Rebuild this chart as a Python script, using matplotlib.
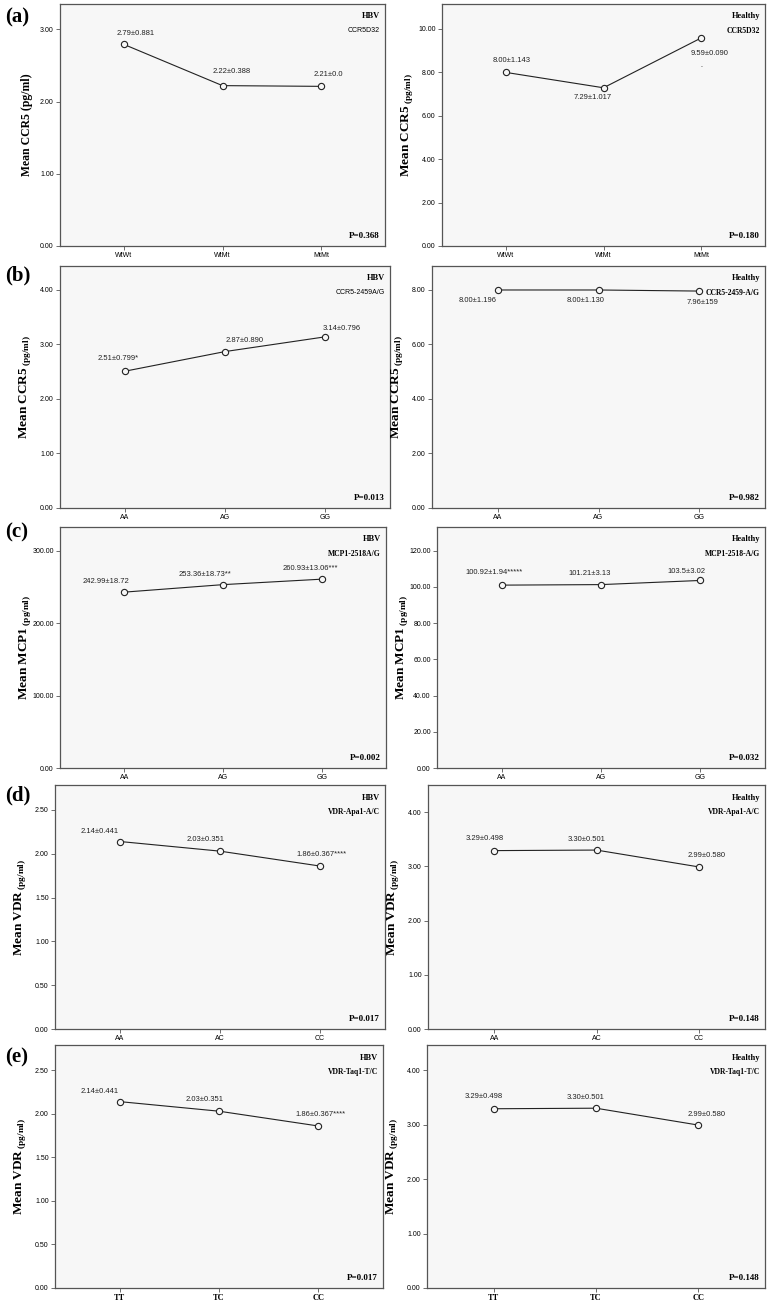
#!/usr/bin/env python3
"""Mean serum levels by genotype, HBV vs healthy (5 x 2 panels)"""
import matplotlib
matplotlib.use('Agg')
import matplotlib.pyplot as plt

plt.rcParams['font.family'] = ['Liberation Sans', 'DejaVu Sans']
plt.rcParams['mathtext.fontset'] = 'custom'
plt.rcParams['mathtext.rm'] = 'Liberation Serif'
plt.rcParams['mathtext.bf'] = 'Liberation Serif:bold'

# ---- data -------------------------------------------------------------
letters = ['(a)', '(b)', '(c)', '(d)', '(e)']

genotypes = [
    ['WtWt', 'WtMt', 'MtMt'],
    ['AA', 'AG', 'GG'],
    ['AA', 'AG', 'GG'],
    ['AA', 'AC', 'CC'],
    ['TT', 'TC', 'CC'],
]

genes = ['CCR5D32', 'CCR5-2459A/G', 'MCP1-2518A/G', 'VDR-Apa1-A/C', 'VDR-Taq1-T/C']
genes_healthy = ['CCR5D32', 'CCR5-2459-A/G', 'MCP1-2518-A/G', 'VDR-Apa1-A/C', 'VDR-Taq1-T/C']
markers_name = ['CCR5', 'CCR5', 'MCP1', 'VDR', 'VDR']

hbv_means = [
    [2.79, 2.22, 2.21],
    [2.51, 2.87, 3.14],
    [242.99, 253.36, 260.93],
    [2.14, 2.03, 1.86],
    [2.14, 2.03, 1.86],
]
hbv_labels = [
    ['2.79±0.881', '2.22±0.388', '2.21±0.0'],
    ['2.51±0.799*', '2.87±0.890', '3.14±0.796'],
    ['242.99±18.72', '253.36±18.73**', '260.93±13.06***'],
    ['2.14±0.441', '2.03±0.351', '1.86±0.367****'],
    ['2.14±0.441', '2.03±0.351', '1.86±0.367****'],
]
hbv_p = ['P=0.368', 'P=0.013', 'P=0.002', 'P=0.017', 'P=0.017']

healthy_means = [
    [8.00, 7.29, 9.59],
    [8.00, 8.00, 7.96],
    [100.92, 101.21, 103.5],
    [3.29, 3.30, 2.99],
    [3.29, 3.30, 2.99],
]
healthy_labels = [
    ['8.00±1.143', '7.29±1.017', '9.59±0.090'],
    ['8.00±1.196', '8.00±1.130', '7.96±159'],
    ['100.92±1.94*****', '101.21±3.13', '103.5±3.02'],
    ['3.29±0.498', '3.30±0.501', '2.99±0.580'],
    ['3.29±0.498', '3.30±0.501', '2.99±0.580'],
]
healthy_p = ['P=0.180', 'P=0.982', 'P=0.032', 'P=0.148', 'P=0.148']

hbv_ylim = [3.35, 4.44, 333, 2.785, 2.79]
hbv_yticks = [[0, 1, 2, 3], [0, 1, 2, 3, 4], [0, 100, 200, 300],
              [0, 0.5, 1, 1.5, 2, 2.5], [0, 0.5, 1, 1.5, 2, 2.5]]
healthy_ylim = [11.15, 8.88, 133, 4.5, 4.46]
healthy_yticks = [[0, 2, 4, 6, 8, 10], [0, 2, 4, 6, 8], [0, 20, 40, 60, 80, 100, 120],
                  [0, 1, 2, 3, 4], [0, 1, 2, 3, 4]]

# ---- layout (pixels) --------------------------------------------------
W, H = 768, 1306
rows_y = [(4, 246), (266, 508), (527, 768), (785, 1029), (1045, 1288)]
left_x = [(60, 385), (60, 390), (60, 386), (55, 385), (55, 383)]
right_x = [(442, 765), (432, 765), (437, 765), (428, 765), (427, 765)]
letter_y = [17, 275, 532, 795, 1057]

# label offsets in pixels (dx, dy), y up
hbv_off = [
    [(12, 11), (9, 14), (7, 12)],
    [(-7, 13), (20, 11), (17, 8)],
    [(-18, 11), (-18, 10), (-11, 11)],
    [(-20, 10), (-14, 12), (2, 12)],
    [(-20, 10), (-14, 12), (2, 12)],
]
healthy_off = [
    [(6, 12), (-11, -10), (8, -16)],
    [(-20, -11), (-13, -11), (3, -11)],
    [(-8, 13), (-11, 11), (-14, 9)],
    [(-10, 12), (-10, 11), (8, 11)],
    [(-10, 12), (-10, 11), (8, 11)],
]

BG = '#f7f7f7'
EDGE = '#555555'
SERIF = 'Liberation Serif'


def make_axes(fig, xr, yr):
    x0, x1 = xr
    y0, y1 = yr
    return fig.add_axes([x0 / W, 1 - y1 / H, (x1 - x0) / W, (y1 - y0) / H])


def draw_panel(ax, cats, means, labels, offs, ylim, yticks, group, gene, pval,
               name, small_unit, bold_x, sans_gene=False):
    ax.set_facecolor(BG)
    xs = list(range(len(cats)))
    ax.plot(xs, means, '-', color='#222222', lw=0.8, zorder=2)
    ax.plot(xs, means, 'o', ms=4.5, mfc=BG, mec='#222222', mew=0.8, zorder=3)
    for x, y, lab, (dx, dy) in zip(xs, means, labels, offs):
        ax.annotate(lab, (x, y), xytext=(dx, dy), textcoords='offset pixels',
                    ha='center', va='center', fontsize=5.5, color='#222222')
    ax.set_xlim(-0.65, 2.65)
    ax.set_ylim(0, ylim)
    ax.set_xticks(xs)
    if bold_x:
        ax.set_xticklabels(cats, fontsize=6, family=SERIF, fontweight='bold')
    else:
        ax.set_xticklabels(cats, fontsize=5)
    ax.set_yticks(yticks)
    ax.set_yticklabels(['%.2f' % t for t in yticks], fontsize=5)
    ax.tick_params(axis='both', length=3, width=0.6, color=EDGE, pad=1.5)
    for s in ax.spines.values():
        s.set_color(EDGE)
        s.set_linewidth(0.9)
    if small_unit:
        ax.set_ylabel('Mean %s' % name + r'$\,_{\mathbf{(pg/ml)}}$', family=SERIF,
                      fontweight='bold', fontsize=9.5)
    else:
        ax.set_ylabel('Mean %s (pg/ml)' % name, family=SERIF,
                      fontweight='bold', fontsize=8.5)
    bb = ax.get_position()
    ax.yaxis.set_label_coords(-27.0 / (bb.width * W), 0.5)
    ax.text(0.985, 0.965, group, transform=ax.transAxes, ha='right', va='top',
            family=SERIF, fontweight='bold', fontsize=6)
    if sans_gene:
        ax.text(0.985, 0.905, gene, transform=ax.transAxes, ha='right', va='top',
                fontsize=5)
    else:
        ax.text(0.985, 0.905, gene, transform=ax.transAxes, ha='right', va='top',
                family=SERIF, fontweight='bold', fontsize=5.5)
    ax.text(0.985, 0.025, pval, transform=ax.transAxes, ha='right', va='bottom',
            family=SERIF, fontweight='bold', fontsize=6.5)


fig = plt.figure(figsize=(W / 100, H / 100), dpi=100)

for i in range(5):
    axl = make_axes(fig, left_x[i], rows_y[i])
    draw_panel(axl, genotypes[i], hbv_means[i], hbv_labels[i], hbv_off[i],
               hbv_ylim[i], hbv_yticks[i], 'HBV', genes[i], hbv_p[i],
               markers_name[i], small_unit=(i > 0), bold_x=(i == 4),
               sans_gene=(i < 2))
    axr = make_axes(fig, right_x[i], rows_y[i])
    draw_panel(axr, genotypes[i], healthy_means[i], healthy_labels[i], healthy_off[i],
               healthy_ylim[i], healthy_yticks[i], 'Healthy', genes_healthy[i],
               healthy_p[i], markers_name[i], small_unit=True, bold_x=(i == 4))
    if i == 0:
        # stray dot under the 9.59 label in the original
        axr.annotate('.', (2, healthy_means[0][2]), xytext=(0, -28),
                     textcoords='offset pixels', ha='center', va='center',
                     fontsize=5)
    fig.text(5 / W, 1 - letter_y[i] / H, letters[i], family=SERIF,
             fontweight='bold', fontsize=15, ha='left', va='center')

fig.savefig('out.png', dpi=100)
plt.close(fig)
